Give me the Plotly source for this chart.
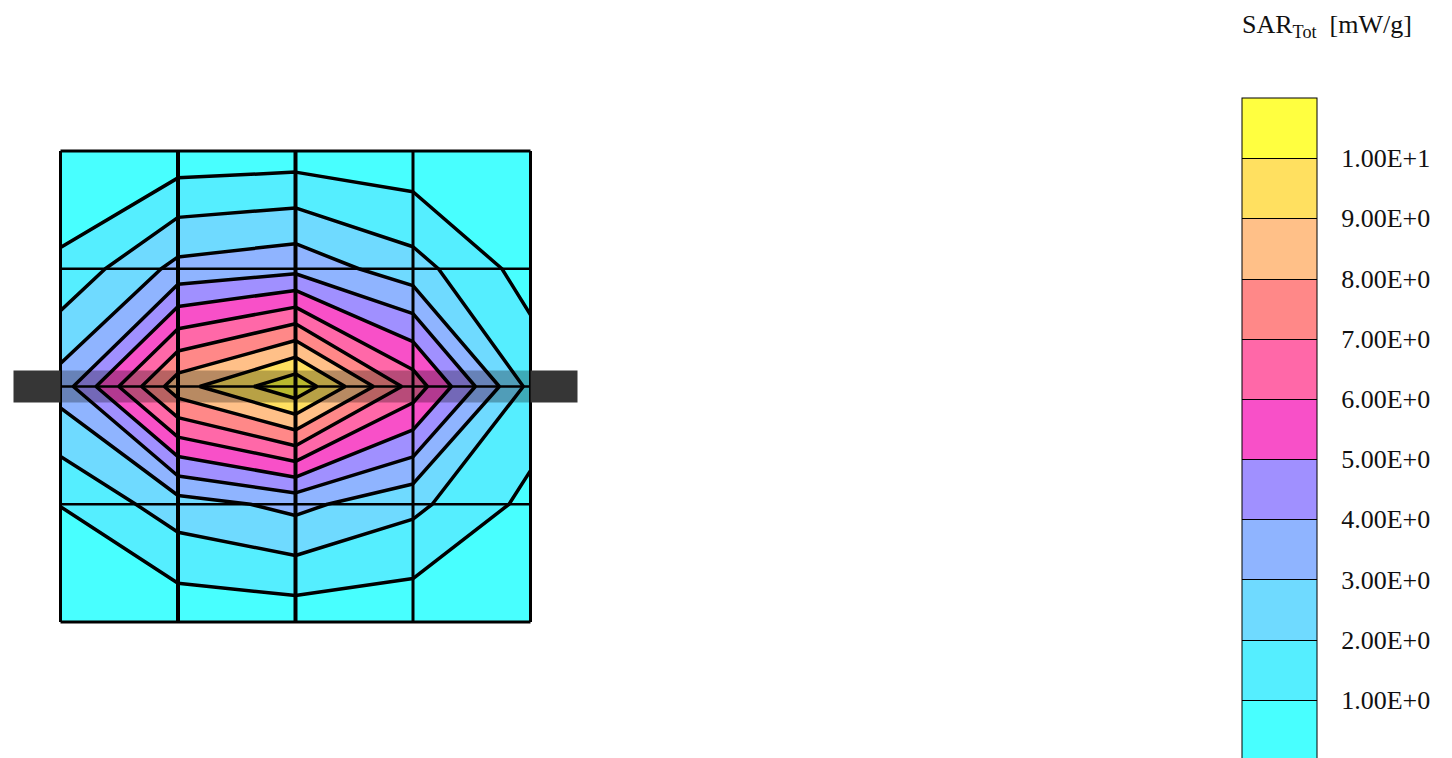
"""SAR_Tot contour map on a 5 x 5 node grid, with stepped colour bar."""

import plotly.graph_objects as go

# ── Data ─────────────────────────────────────────────────────────────────
NODE_X = [0, 1, 2, 3, 4]
NODE_Y = [0, 1, 2, 3, 4]

ROW_0 = [0.09, 0.32, 0.41, 0.26, 0.05]
ROW_1 = [1.20, 3.30, 3.70, 2.40, 0.55]
ROW_2 = [3.44, 8.60, 10.76, 6.60, 1.70]
ROW_3 = [1.02, 2.55, 3.28, 2.25, 0.72]
ROW_4 = [0.05, 0.24, 0.34, 0.27, 0.05]

LEVELS = [1, 2, 3, 4, 5, 6, 7, 8, 9, 10]
LEVEL_LABELS = ["1.00E+0", "2.00E+0", "3.00E+0", "4.00E+0", "5.00E+0",
                "6.00E+0", "7.00E+0", "8.00E+0", "9.00E+0", "1.00E+1"]
BAND_COLORS = ["#48FFFF", "#55EEFF", "#6FDAFF", "#8FB4FF", "#A090FF", "#F850C8",
               "#FF68A8", "#FF8888", "#FFC088", "#FFE060", "#FFFF40"]

# antenna bar, in grid units
BAR_X = [-0.4, 4.4]
BAR_Y = [1.865, 2.135]

# ── Layout constants ─────────────────────────────────────────────────────
# the page adds an 8 px body margin, so positions here are 8 px less than on screen
WIDTH, HEIGHT = 1452, 758
CELL_X, CELL_Y = 117.5, 117.75
LEFT, TOP = 52.5, 143
SERIF = "Liberation Serif, serif"

colorscale = []
for i, c in enumerate(BAND_COLORS):
    colorscale.append([i / len(BAND_COLORS), c])
    colorscale.append([(i + 1) / len(BAND_COLORS), c])

z = [ROW_0, ROW_1, ROW_2, ROW_3, ROW_4]
contours = dict(start=LEVELS[0], end=LEVELS[-1], size=1)

fig = go.Figure()

# filled bands, these also carry the colour bar (thin separators)
fig.add_trace(go.Contour(
    x=NODE_X, y=NODE_Y, z=z,
    zmin=0, zmax=len(BAND_COLORS),
    autocontour=False,
    contours=dict(coloring="fill", **contours),
    colorscale=colorscale,
    line=dict(color="black", width=1, smoothing=0),
    colorbar=dict(
        xref="container", yref="container",
        x=1234 / WIDTH, xanchor="left", xpad=0,
        y=1 - 90 / HEIGHT, yanchor="top", ypad=0,
        lenmode="pixels", len=662,
        thicknessmode="pixels", thickness=75,
        outlinecolor="black", outlinewidth=1,
        tickmode="array", tickvals=LEVELS, ticktext=LEVEL_LABELS,
        ticks="outside", ticklen=19, tickcolor="rgba(0,0,0,0)",
        tickfont=dict(family=SERIF, size=26, color="#111111"),
    ),
))

# heavy contour lines
fig.add_trace(go.Contour(
    x=NODE_X, y=NODE_Y, z=z,
    autocontour=False,
    contours=dict(coloring="none", **contours),
    line=dict(color="black", width=3.5, smoothing=0),
    showscale=False,
))

# element grid
for gx in NODE_X:
    fig.add_trace(go.Scatter(
        x=[gx, gx], y=[NODE_Y[0], NODE_Y[-1]], mode="lines",
        line=dict(color="black", width=4 if gx in (1, 2) else 3), showlegend=False,
    ))
for gy in NODE_Y:
    fig.add_trace(go.Scatter(
        x=[NODE_X[0], NODE_X[-1]], y=[gy, gy], mode="lines",
        line=dict(color="black", width=3 if gy in (0, 4) else 2.5), showlegend=False,
    ))

# antenna: solid outside the grid, see-through on top of it
shapes = [
    dict(type="rect", x0=BAR_X[0], x1=NODE_X[0], y0=BAR_Y[0], y1=BAR_Y[1],
         fillcolor="#363636", line_width=0),
    dict(type="rect", x0=NODE_X[-1], x1=BAR_X[1], y0=BAR_Y[0], y1=BAR_Y[1],
         fillcolor="#363636", line_width=0),
    dict(type="rect", x0=NODE_X[0], x1=NODE_X[-1], y0=BAR_Y[0], y1=BAR_Y[1],
         fillcolor="rgba(0,0,0,0.28)", line_width=0),
]

fig.update_layout(
    width=WIDTH, height=HEIGHT,
    paper_bgcolor="white", plot_bgcolor="white",
    margin=dict(l=0, r=0, t=0, b=0, autoexpand=False),
    showlegend=False,
    shapes=shapes,
    annotations=[dict(
        text="SAR<sub>Tot</sub>  [mW/g]",
        xref="paper", yref="paper", x=1232 / WIDTH, y=1,
        xanchor="left", yanchor="top", showarrow=False,
        font=dict(family=SERIF, size=26, color="#111111"),
    )],
    xaxis=dict(range=[-LEFT / CELL_X, (WIDTH - LEFT) / CELL_X], visible=False),
    yaxis=dict(range=[(HEIGHT - TOP) / CELL_Y, -TOP / CELL_Y], visible=False),
)

fig.write_html("out.html")
